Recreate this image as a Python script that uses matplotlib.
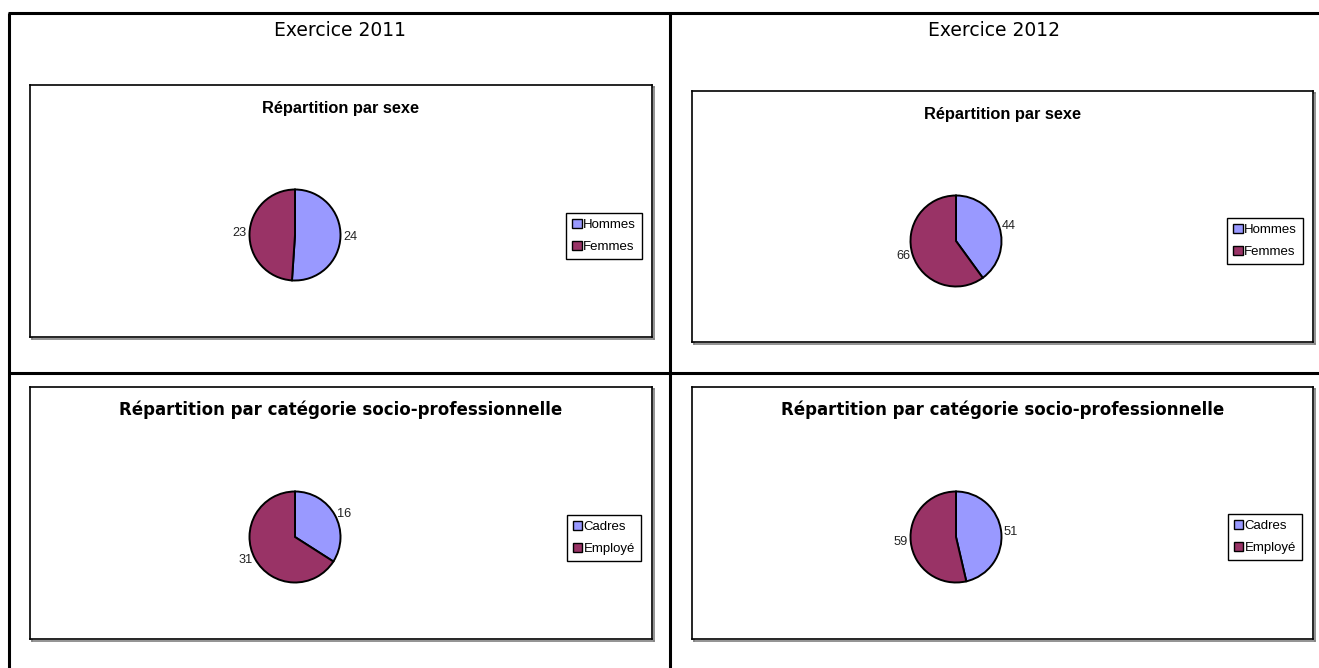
import matplotlib
matplotlib.use("Agg")
import matplotlib.pyplot as plt
from matplotlib.lines import Line2D
from matplotlib.patches import Patch

# data
years = ["Exercice 2011", "Exercice 2012"]
sexe_labels = ["Hommes", "Femmes"]
sexe_2011 = [24, 23]
sexe_2012 = [44, 66]
cat_labels = ["Cadres", "Employé"]
cat_2011 = [16, 31]
cat_2012 = [51, 59]
titre_sexe = "Répartition par sexe"
titre_cat = "Répartition par catégorie socio-professionnelle"
colors = ["#9999FF", "#993366"]

W, H = 1319, 668
fig = plt.figure(figsize=(W / 100, H / 100), dpi=100)
fig.patch.set_facecolor("white")


def fx(x):
    return x / W


def fy(y):
    return 1 - y / H


def line(x0, y0, x1, y1, lw=2.2, color="black"):
    fig.add_artist(Line2D([fx(x0), fx(x1)], [fy(y0), fy(y1)], color=color, lw=lw,
                          solid_capstyle="butt"))


# outer table lines
line(8, 13, W, 13)
line(9, 13, 9, H)
line(670, 13, 670, H)
line(9, 373, W, 373)

fig.text(fx(340), fy(31), years[0], ha="center", va="center", fontsize=13.5,
         family="DejaVu Sans")
fig.text(fx(994), fy(31), years[1], ha="center", va="center", fontsize=13.5,
         family="DejaVu Sans")


def chart(box, title, labels, values, pie_c, leg_c, tfont, tsize):
    x0, y0, x1, y1 = box
    # grey shadow then box
    sh = fig.add_axes([fx(x0 + 2), fy(y1 + 2), fx(x1 - x0), (y1 - y0) / H])
    sh.set_xticks([]); sh.set_yticks([])
    for s in sh.spines.values():
        s.set_color("#808080"); s.set_linewidth(1.2)
    ax = fig.add_axes([fx(x0), fy(y1), fx(x1 - x0), (y1 - y0) / H])
    ax.set_xticks([]); ax.set_yticks([])
    for s in ax.spines.values():
        s.set_color("black"); s.set_linewidth(1.2)
    fig.text(fx((x0 + x1) / 2), fy(y0 + 23), title, ha="center", va="center",
             fontsize=tsize, fontweight="bold", family=tfont)

    r = 45.5
    cx, cy = pie_c
    pa = fig.add_axes([fx(cx - r), fy(cy + r), fx(2 * r), 2 * r / H])
    wedges, texts = pa.pie(values, labels=[str(v) for v in values], colors=colors,
                           startangle=90, counterclock=False, radius=1,
                           labeldistance=1.06,
                           wedgeprops=dict(edgecolor="black", linewidth=1.4),
                           textprops=dict(fontsize=9.2, family="Liberation Sans",
                                          color="#222222"))
    pa.set_xlim(-1, 1); pa.set_ylim(-1, 1)
    pa.set_aspect("equal")
    pa.axis("off")

    handles = [Patch(facecolor=c, edgecolor="black", linewidth=1.0) for c in colors]
    lx, ly = leg_c
    fig.legend(handles, labels, loc="center", bbox_to_anchor=(fx(lx), fy(ly)),
               frameon=True, fancybox=False, edgecolor="black", framealpha=1,
               handlelength=0.7, handleheight=0.7, handletextpad=0.1,
               borderpad=0.45, labelspacing=0.7, borderaxespad=0,
               prop=dict(family="Liberation Sans", size=9.5))


chart((30, 85, 652, 337), titre_sexe, sexe_labels, sexe_2011, (295, 235), (604, 236),
      "Liberation Sans", 11.8)
chart((692, 91, 1313, 342), titre_sexe, sexe_labels, sexe_2012, (956, 241), (1265, 241),
      "Liberation Sans", 11.8)
chart((30, 387, 652, 639), titre_cat, cat_labels, cat_2011, (295, 537), (604, 538),
      "DejaVu Sans", 12)
chart((692, 387, 1313, 639), titre_cat, cat_labels, cat_2012, (956, 537), (1265, 537),
      "DejaVu Sans", 12)

fig.savefig("out.png", dpi=100)
